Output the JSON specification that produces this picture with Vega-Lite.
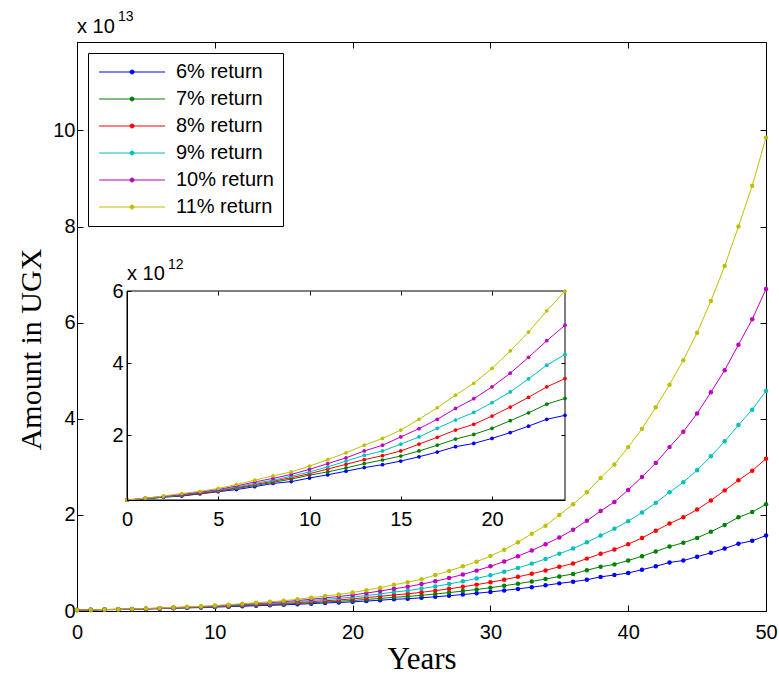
{
"$schema": "https://vega.github.io/schema/vega-lite/v6.json",
"width": 689, "height": 569,
"autosize": "none",
"padding": {"left": 77, "top": 42, "right": 13, "bottom": 66},
"background": "white",
"data": {"values": [
{"year":0,"series":"6% return","amount":0.20e12},{"year":1,"series":"6% return","amount":0.23e12},{"year":2,"series":"6% return","amount":0.28e12},{"year":3,"series":"6% return","amount":0.31e12},{"year":4,"series":"6% return","amount":0.37e12},{"year":5,"series":"6% return","amount":0.43e12},{"year":6,"series":"6% return","amount":0.49e12},{"year":7,"series":"6% return","amount":0.57e12},{"year":8,"series":"6% return","amount":0.66e12},{"year":9,"series":"6% return","amount":0.71e12},{"year":10,"series":"6% return","amount":0.81e12},{"year":11,"series":"6% return","amount":0.90e12},{"year":12,"series":"6% return","amount":1.00e12},{"year":13,"series":"6% return","amount":1.10e12},{"year":14,"series":"6% return","amount":1.18e12},{"year":15,"series":"6% return","amount":1.28e12},{"year":16,"series":"6% return","amount":1.40e12},{"year":17,"series":"6% return","amount":1.53e12},{"year":18,"series":"6% return","amount":1.68e12},{"year":19,"series":"6% return","amount":1.77e12},{"year":20,"series":"6% return","amount":1.91e12},{"year":21,"series":"6% return","amount":2.07e12},{"year":22,"series":"6% return","amount":2.25e12},{"year":23,"series":"6% return","amount":2.44e12},{"year":24,"series":"6% return","amount":2.55e12},{"year":25,"series":"6% return","amount":2.75e12},{"year":26,"series":"6% return","amount":2.96e12},{"year":27,"series":"6% return","amount":3.18e12},{"year":28,"series":"6% return","amount":3.43e12},{"year":29,"series":"6% return","amount":3.69e12},{"year":30,"series":"6% return","amount":3.97e12},{"year":31,"series":"6% return","amount":4.28e12},{"year":32,"series":"6% return","amount":4.60e12},{"year":33,"series":"6% return","amount":4.96e12},{"year":34,"series":"6% return","amount":5.34e12},{"year":35,"series":"6% return","amount":5.75e12},{"year":36,"series":"6% return","amount":6.1e12},{"year":37,"series":"6% return","amount":6.5e12},{"year":38,"series":"6% return","amount":7.1e12},{"year":39,"series":"6% return","amount":7.5e12},{"year":40,"series":"6% return","amount":7.9e12},{"year":41,"series":"6% return","amount":8.6e12},{"year":42,"series":"6% return","amount":9.3e12},{"year":43,"series":"6% return","amount":10.1e12},{"year":44,"series":"6% return","amount":10.5e12},{"year":45,"series":"6% return","amount":11.3e12},{"year":46,"series":"6% return","amount":12.1e12},{"year":47,"series":"6% return","amount":13.0e12},{"year":48,"series":"6% return","amount":14.0e12},{"year":49,"series":"6% return","amount":14.6e12},{"year":50,"series":"6% return","amount":15.7e12},
{"year":0,"series":"7% return","amount":0.20e12},{"year":1,"series":"7% return","amount":0.23e12},{"year":2,"series":"7% return","amount":0.28e12},{"year":3,"series":"7% return","amount":0.32e12},{"year":4,"series":"7% return","amount":0.38e12},{"year":5,"series":"7% return","amount":0.44e12},{"year":6,"series":"7% return","amount":0.52e12},{"year":7,"series":"7% return","amount":0.60e12},{"year":8,"series":"7% return","amount":0.69e12},{"year":9,"series":"7% return","amount":0.78e12},{"year":10,"series":"7% return","amount":0.89e12},{"year":11,"series":"7% return","amount":0.98e12},{"year":12,"series":"7% return","amount":1.09e12},{"year":13,"series":"7% return","amount":1.21e12},{"year":14,"series":"7% return","amount":1.31e12},{"year":15,"series":"7% return","amount":1.42e12},{"year":16,"series":"7% return","amount":1.56e12},{"year":17,"series":"7% return","amount":1.72e12},{"year":18,"series":"7% return","amount":1.89e12},{"year":19,"series":"7% return","amount":2.02e12},{"year":20,"series":"7% return","amount":2.19e12},{"year":21,"series":"7% return","amount":2.40e12},{"year":22,"series":"7% return","amount":2.62e12},{"year":23,"series":"7% return","amount":2.86e12},{"year":24,"series":"7% return","amount":3.02e12},{"year":25,"series":"7% return","amount":3.27e12},{"year":26,"series":"7% return","amount":3.54e12},{"year":27,"series":"7% return","amount":3.83e12},{"year":28,"series":"7% return","amount":4.14e12},{"year":29,"series":"7% return","amount":4.48e12},{"year":30,"series":"7% return","amount":4.85e12},{"year":31,"series":"7% return","amount":5.25e12},{"year":32,"series":"7% return","amount":5.68e12},{"year":33,"series":"7% return","amount":6.15e12},{"year":34,"series":"7% return","amount":6.65e12},{"year":35,"series":"7% return","amount":7.2e12},{"year":36,"series":"7% return","amount":7.7e12},{"year":37,"series":"7% return","amount":8.5e12},{"year":38,"series":"7% return","amount":9.2e12},{"year":39,"series":"7% return","amount":9.7e12},{"year":40,"series":"7% return","amount":10.5e12},{"year":41,"series":"7% return","amount":11.4e12},{"year":42,"series":"7% return","amount":12.4e12},{"year":43,"series":"7% return","amount":13.4e12},{"year":44,"series":"7% return","amount":14.2e12},{"year":45,"series":"7% return","amount":15.2e12},{"year":46,"series":"7% return","amount":16.5e12},{"year":47,"series":"7% return","amount":17.9e12},{"year":48,"series":"7% return","amount":19.5e12},{"year":49,"series":"7% return","amount":20.6e12},{"year":50,"series":"7% return","amount":22.2e12},
{"year":0,"series":"8% return","amount":0.20e12},{"year":1,"series":"8% return","amount":0.24e12},{"year":2,"series":"8% return","amount":0.29e12},{"year":3,"series":"8% return","amount":0.33e12},{"year":4,"series":"8% return","amount":0.39e12},{"year":5,"series":"8% return","amount":0.45e12},{"year":6,"series":"8% return","amount":0.54e12},{"year":7,"series":"8% return","amount":0.63e12},{"year":8,"series":"8% return","amount":0.72e12},{"year":9,"series":"8% return","amount":0.82e12},{"year":10,"series":"8% return","amount":0.93e12},{"year":11,"series":"8% return","amount":1.06e12},{"year":12,"series":"8% return","amount":1.19e12},{"year":13,"series":"8% return","amount":1.32e12},{"year":14,"series":"8% return","amount":1.43e12},{"year":15,"series":"8% return","amount":1.56e12},{"year":16,"series":"8% return","amount":1.75e12},{"year":17,"series":"8% return","amount":1.94e12},{"year":18,"series":"8% return","amount":2.14e12},{"year":19,"series":"8% return","amount":2.30e12},{"year":20,"series":"8% return","amount":2.53e12},{"year":21,"series":"8% return","amount":2.78e12},{"year":22,"series":"8% return","amount":3.05e12},{"year":23,"series":"8% return","amount":3.34e12},{"year":24,"series":"8% return","amount":3.57e12},{"year":25,"series":"8% return","amount":3.89e12},{"year":26,"series":"8% return","amount":4.24e12},{"year":27,"series":"8% return","amount":4.62e12},{"year":28,"series":"8% return","amount":5.04e12},{"year":29,"series":"8% return","amount":5.49e12},{"year":30,"series":"8% return","amount":5.98e12},{"year":31,"series":"8% return","amount":6.52e12},{"year":32,"series":"8% return","amount":7.11e12},{"year":33,"series":"8% return","amount":7.75e12},{"year":34,"series":"8% return","amount":8.45e12},{"year":35,"series":"8% return","amount":9.2e12},{"year":36,"series":"8% return","amount":9.9e12},{"year":37,"series":"8% return","amount":10.9e12},{"year":38,"series":"8% return","amount":11.9e12},{"year":39,"series":"8% return","amount":12.8e12},{"year":40,"series":"8% return","amount":13.9e12},{"year":41,"series":"8% return","amount":15.2e12},{"year":42,"series":"8% return","amount":16.7e12},{"year":43,"series":"8% return","amount":18.2e12},{"year":44,"series":"8% return","amount":19.5e12},{"year":45,"series":"8% return","amount":21.1e12},{"year":46,"series":"8% return","amount":23.0e12},{"year":47,"series":"8% return","amount":25.1e12},{"year":48,"series":"8% return","amount":27.2e12},{"year":49,"series":"8% return","amount":29.2e12},{"year":50,"series":"8% return","amount":31.7e12},
{"year":0,"series":"9% return","amount":0.20e12},{"year":1,"series":"9% return","amount":0.24e12},{"year":2,"series":"9% return","amount":0.29e12},{"year":3,"series":"9% return","amount":0.34e12},{"year":4,"series":"9% return","amount":0.41e12},{"year":5,"series":"9% return","amount":0.47e12},{"year":6,"series":"9% return","amount":0.56e12},{"year":7,"series":"9% return","amount":0.66e12},{"year":8,"series":"9% return","amount":0.75e12},{"year":9,"series":"9% return","amount":0.86e12},{"year":10,"series":"9% return","amount":0.98e12},{"year":11,"series":"9% return","amount":1.12e12},{"year":12,"series":"9% return","amount":1.28e12},{"year":13,"series":"9% return","amount":1.44e12},{"year":14,"series":"9% return","amount":1.56e12},{"year":15,"series":"9% return","amount":1.75e12},{"year":16,"series":"9% return","amount":1.95e12},{"year":17,"series":"9% return","amount":2.19e12},{"year":18,"series":"9% return","amount":2.42e12},{"year":19,"series":"9% return","amount":2.63e12},{"year":20,"series":"9% return","amount":2.90e12},{"year":21,"series":"9% return","amount":3.20e12},{"year":22,"series":"9% return","amount":3.56e12},{"year":23,"series":"9% return","amount":3.94e12},{"year":24,"series":"9% return","amount":4.24e12},{"year":25,"series":"9% return","amount":4.66e12},{"year":26,"series":"9% return","amount":5.11e12},{"year":27,"series":"9% return","amount":5.62e12},{"year":28,"series":"9% return","amount":6.17e12},{"year":29,"series":"9% return","amount":6.77e12},{"year":30,"series":"9% return","amount":7.44e12},{"year":31,"series":"9% return","amount":8.17e12},{"year":32,"series":"9% return","amount":8.97e12},{"year":33,"series":"9% return","amount":9.86e12},{"year":34,"series":"9% return","amount":10.83e12},{"year":35,"series":"9% return","amount":11.9e12},{"year":36,"series":"9% return","amount":13.0e12},{"year":37,"series":"9% return","amount":14.3e12},{"year":38,"series":"9% return","amount":15.7e12},{"year":39,"series":"9% return","amount":17.1e12},{"year":40,"series":"9% return","amount":18.7e12},{"year":41,"series":"9% return","amount":20.5e12},{"year":42,"series":"9% return","amount":22.5e12},{"year":43,"series":"9% return","amount":24.7e12},{"year":44,"series":"9% return","amount":26.8e12},{"year":45,"series":"9% return","amount":29.3e12},{"year":46,"series":"9% return","amount":32.2e12},{"year":47,"series":"9% return","amount":35.3e12},{"year":48,"series":"9% return","amount":38.7e12},{"year":49,"series":"9% return","amount":41.9e12},{"year":50,"series":"9% return","amount":45.8e12},
{"year":0,"series":"10% return","amount":0.20e12},{"year":1,"series":"10% return","amount":0.25e12},{"year":2,"series":"10% return","amount":0.30e12},{"year":3,"series":"10% return","amount":0.35e12},{"year":4,"series":"10% return","amount":0.42e12},{"year":5,"series":"10% return","amount":0.49e12},{"year":6,"series":"10% return","amount":0.59e12},{"year":7,"series":"10% return","amount":0.70e12},{"year":8,"series":"10% return","amount":0.80e12},{"year":9,"series":"10% return","amount":0.91e12},{"year":10,"series":"10% return","amount":1.05e12},{"year":11,"series":"10% return","amount":1.21e12},{"year":12,"series":"10% return","amount":1.37e12},{"year":13,"series":"10% return","amount":1.56e12},{"year":14,"series":"10% return","amount":1.72e12},{"year":15,"series":"10% return","amount":1.95e12},{"year":16,"series":"10% return","amount":2.18e12},{"year":17,"series":"10% return","amount":2.44e12},{"year":18,"series":"10% return","amount":2.74e12},{"year":19,"series":"10% return","amount":3.01e12},{"year":20,"series":"10% return","amount":3.34e12},{"year":21,"series":"10% return","amount":3.72e12},{"year":22,"series":"10% return","amount":4.16e12},{"year":23,"series":"10% return","amount":4.62e12},{"year":24,"series":"10% return","amount":5.05e12},{"year":25,"series":"10% return","amount":5.6e12},{"year":26,"series":"10% return","amount":6.2e12},{"year":27,"series":"10% return","amount":6.85e12},{"year":28,"series":"10% return","amount":7.6e12},{"year":29,"series":"10% return","amount":8.4e12},{"year":30,"series":"10% return","amount":9.3e12},{"year":31,"series":"10% return","amount":10.3e12},{"year":32,"series":"10% return","amount":11.4e12},{"year":33,"series":"10% return","amount":12.6e12},{"year":34,"series":"10% return","amount":13.9e12},{"year":35,"series":"10% return","amount":15.3e12},{"year":36,"series":"10% return","amount":16.9e12},{"year":37,"series":"10% return","amount":18.8e12},{"year":38,"series":"10% return","amount":20.8e12},{"year":39,"series":"10% return","amount":22.7e12},{"year":40,"series":"10% return","amount":25.2e12},{"year":41,"series":"10% return","amount":27.9e12},{"year":42,"series":"10% return","amount":30.8e12},{"year":43,"series":"10% return","amount":34.1e12},{"year":44,"series":"10% return","amount":37.3e12},{"year":45,"series":"10% return","amount":41.1e12},{"year":46,"series":"10% return","amount":45.5e12},{"year":47,"series":"10% return","amount":50.1e12},{"year":48,"series":"10% return","amount":55.4e12},{"year":49,"series":"10% return","amount":60.7e12},{"year":50,"series":"10% return","amount":67.0e12},
{"year":0,"series":"11% return","amount":0.20e12},{"year":1,"series":"11% return","amount":0.25e12},{"year":2,"series":"11% return","amount":0.31e12},{"year":3,"series":"11% return","amount":0.38e12},{"year":4,"series":"11% return","amount":0.44e12},{"year":5,"series":"11% return","amount":0.52e12},{"year":6,"series":"11% return","amount":0.63e12},{"year":7,"series":"11% return","amount":0.75e12},{"year":8,"series":"11% return","amount":0.87e12},{"year":9,"series":"11% return","amount":0.98e12},{"year":10,"series":"11% return","amount":1.14e12},{"year":11,"series":"11% return","amount":1.32e12},{"year":12,"series":"11% return","amount":1.51e12},{"year":13,"series":"11% return","amount":1.72e12},{"year":14,"series":"11% return","amount":1.91e12},{"year":15,"series":"11% return","amount":2.14e12},{"year":16,"series":"11% return","amount":2.44e12},{"year":17,"series":"11% return","amount":2.76e12},{"year":18,"series":"11% return","amount":3.11e12},{"year":19,"series":"11% return","amount":3.44e12},{"year":20,"series":"11% return","amount":3.85e12},{"year":21,"series":"11% return","amount":4.34e12},{"year":22,"series":"11% return","amount":4.86e12},{"year":23,"series":"11% return","amount":5.45e12},{"year":24,"series":"11% return","amount":6.00e12},{"year":25,"series":"11% return","amount":6.6e12},{"year":26,"series":"11% return","amount":7.49e12},{"year":27,"series":"11% return","amount":8.32e12},{"year":28,"series":"11% return","amount":9.29e12},{"year":29,"series":"11% return","amount":10.26e12},{"year":30,"series":"11% return","amount":11.44e12},{"year":31,"series":"11% return","amount":12.76e12},{"year":32,"series":"11% return","amount":14.29e12},{"year":33,"series":"11% return","amount":16.09e12},{"year":34,"series":"11% return","amount":17.76e12},{"year":35,"series":"11% return","amount":19.98e12},{"year":36,"series":"11% return","amount":22.2e12},{"year":37,"series":"11% return","amount":24.7e12},{"year":38,"series":"11% return","amount":27.7e12},{"year":39,"series":"11% return","amount":30.5e12},{"year":40,"series":"11% return","amount":34.1e12},{"year":41,"series":"11% return","amount":37.9e12},{"year":42,"series":"11% return","amount":42.4e12},{"year":43,"series":"11% return","amount":47.1e12},{"year":44,"series":"11% return","amount":52.2e12},{"year":45,"series":"11% return","amount":57.9e12},{"year":46,"series":"11% return","amount":64.5e12},{"year":47,"series":"11% return","amount":71.8e12},{"year":48,"series":"11% return","amount":80.0e12},{"year":49,"series":"11% return","amount":88.5e12},{"year":50,"series":"11% return","amount":98.5e12}
]},
"config": {
  "view": {"stroke": "black", "strokeWidth": 1},
  "axis": {"labelFont": "Liberation Sans", "labelFontSize": 20, "labelColor": "black", "tickColor": "black", "domainColor": "black", "grid": false, "titleColor": "black", "titleFont": "Liberation Serif", "titleFontWeight": "normal", "titleFontSize": 31},
  "legend": {"labelFont": "Liberation Sans", "labelFontSize": 20, "labelColor": "black"}
},
"layer": [
  {
    "layer": [
      {
        "mark": {"type": "line", "strokeWidth": 1, "point": {"filled": true, "size": 20}},
        "encoding": {
          "x": {"field": "year", "type": "quantitative", "scale": {"domain": [0, 50], "nice": false},
                "axis": {"orient": "bottom", "values": [0, 10, 20, 30, 40, 50], "tickSize": -6, "labelPadding": 17, "title": "Years", "titlePadding": 2, "labelFlush": false}},
          "y": {"field": "amount", "type": "quantitative", "scale": {"domain": [0, 1.184e14], "nice": false, "zero": true},
                "axis": {"orient": "left", "values": [0, 2e13, 4e13, 6e13, 8e13, 1e14], "labelExpr": "round(datum.value/1e13)", "tickSize": -6, "labelPadding": 8, "title": "Amount in UGX", "titlePadding": 6, "titleFontSize": 30, "titleY": 307, "labelFlush": false}},
          "color": {"field": "series", "type": "nominal",
                    "scale": {"domain": ["6% return", "7% return", "8% return", "9% return", "10% return", "11% return"], "range": ["#0000ff", "#008000", "#ff0000", "#00bfbf", "#bf00bf", "#bfbf00"]},
                    "legend": {"orient": "top-left", "offset": 11, "title": null, "padding": 9, "rowPadding": 7, "strokeColor": "black", "fillColor": "white", "cornerRadius": 0, "labelLimit": 300,
                               "symbolType": "M-1.2,0H8.8M3.5,0A0.3,0.3 0 1,0 4.1,0A0.3,0.3 0 1,0 3.5,0M3.68,0A0.12,0.12 0 1,0 3.92,0A0.12,0.12 0 1,0 3.68,0",
                               "symbolSize": 174, "symbolStrokeWidth": 1, "labelOffset": 59}}
        }
      },
      {
        "data": {"values": [{}]},
        "mark": {"type": "text", "text": "x 10", "align": "left", "baseline": "alphabetic", "dy": -9, "font": "Liberation Sans", "fontSize": 20, "color": "black"},
        "encoding": {
          "x": {"datum": 0, "type": "quantitative", "scale": {"domain": [0, 50], "nice": false},
                "axis": {"orient": "top", "values": [0, 10, 20, 30, 40, 50], "tickSize": -6, "labels": false, "domain": false, "title": null}},
          "y": {"datum": 1.184e14, "type": "quantitative", "scale": {"domain": [0, 1.184e14], "nice": false, "zero": true},
                "axis": {"orient": "right", "values": [0, 2e13, 4e13, 6e13, 8e13, 1e14], "tickSize": -6, "labels": false, "domain": false, "title": null}}
        }
      },
      {
        "data": {"values": [{}]},
        "mark": {"type": "text", "text": "13", "align": "left", "baseline": "alphabetic", "dx": 41, "dy": -21, "font": "Liberation Sans", "fontSize": 14, "color": "black"},
        "encoding": {
          "x": {"datum": 0, "type": "quantitative", "scale": {"domain": [0, 50], "nice": false}, "axis": null},
          "y": {"datum": 1.184e14, "type": "quantitative", "scale": {"domain": [0, 1.184e14], "nice": false, "zero": true}, "axis": null}
        }
      }
    ],
    "resolve": {"axis": {"x": "independent", "y": "independent"}}
  },
  {
    "layer": [
      {
        "data": {"values": [{}]},
        "mark": {"type": "rect", "fill": "white", "stroke": "black", "strokeWidth": 1},
        "encoding": {
          "x": {"datum": 0, "type": "quantitative", "scale": {"domain": [0, 24], "range": [50, 488], "nice": false, "zero": false},
                "axis": {"orient": "top", "offset": -249, "values": [5, 10, 15, 20], "tickSize": -4, "labels": false, "domain": false, "title": null, "zindex": 1}},
          "x2": {"datum": 24},
          "y": {"datum": 2e11, "type": "quantitative", "scale": {"domain": [2e11, 6e12], "range": [458, 249], "nice": false, "zero": false},
                "axis": {"orient": "right", "offset": -201, "values": [2e12, 4e12], "tickSize": -4, "labels": false, "domain": false, "title": null, "zindex": 1}},
          "y2": {"datum": 6e12}
        }
      },
      {
        "transform": [{"filter": "datum.year <= 24"}],
        "mark": {"type": "line", "strokeWidth": 1, "point": {"filled": true, "size": 14}},
        "encoding": {
          "x": {"field": "year", "type": "quantitative", "scale": {"domain": [0, 24], "range": [50, 488], "nice": false, "zero": false},
                "axis": {"orient": "bottom", "offset": -111, "values": [0, 5, 10, 15, 20], "tickSize": -4, "labelPadding": 13, "title": null, "zindex": 1, "labelFlush": false}},
          "y": {"field": "amount", "type": "quantitative", "scale": {"domain": [2e11, 6e12], "range": [458, 249], "nice": false, "zero": false},
                "axis": {"orient": "left", "offset": -50, "values": [2e12, 4e12, 6e12], "labelExpr": "round(datum.value/1e12)", "tickSize": -4, "labelPadding": 8, "title": null, "zindex": 1, "labelFlush": false}},
          "color": {"field": "series", "type": "nominal",
                    "scale": {"domain": ["6% return", "7% return", "8% return", "9% return", "10% return", "11% return"], "range": ["#0000ff", "#008000", "#ff0000", "#00bfbf", "#bf00bf", "#bfbf00"]},
                    "legend": null}
        }
      },
      {
        "data": {"values": [{}]},
        "mark": {"type": "text", "text": "x 10", "align": "left", "baseline": "alphabetic", "dy": -11, "font": "Liberation Sans", "fontSize": 20, "color": "black"},
        "encoding": {
          "x": {"datum": 0, "type": "quantitative", "scale": {"domain": [0, 24], "range": [50, 488], "nice": false, "zero": false}, "axis": null},
          "y": {"datum": 6e12, "type": "quantitative", "scale": {"domain": [2e11, 6e12], "range": [458, 249], "nice": false, "zero": false}, "axis": null}
        }
      },
      {
        "data": {"values": [{}]},
        "mark": {"type": "text", "text": "12", "align": "left", "baseline": "alphabetic", "dx": 41, "dy": -22, "font": "Liberation Sans", "fontSize": 14, "color": "black"},
        "encoding": {
          "x": {"datum": 0, "type": "quantitative", "scale": {"domain": [0, 24], "range": [50, 488], "nice": false, "zero": false}, "axis": null},
          "y": {"datum": 6e12, "type": "quantitative", "scale": {"domain": [2e11, 6e12], "range": [458, 249], "nice": false, "zero": false}, "axis": null}
        }
      }
    ],
    "resolve": {"axis": {"x": "independent", "y": "independent"}}
  }
],
"resolve": {"scale": {"x": "independent", "y": "independent", "color": "independent"}}
}
